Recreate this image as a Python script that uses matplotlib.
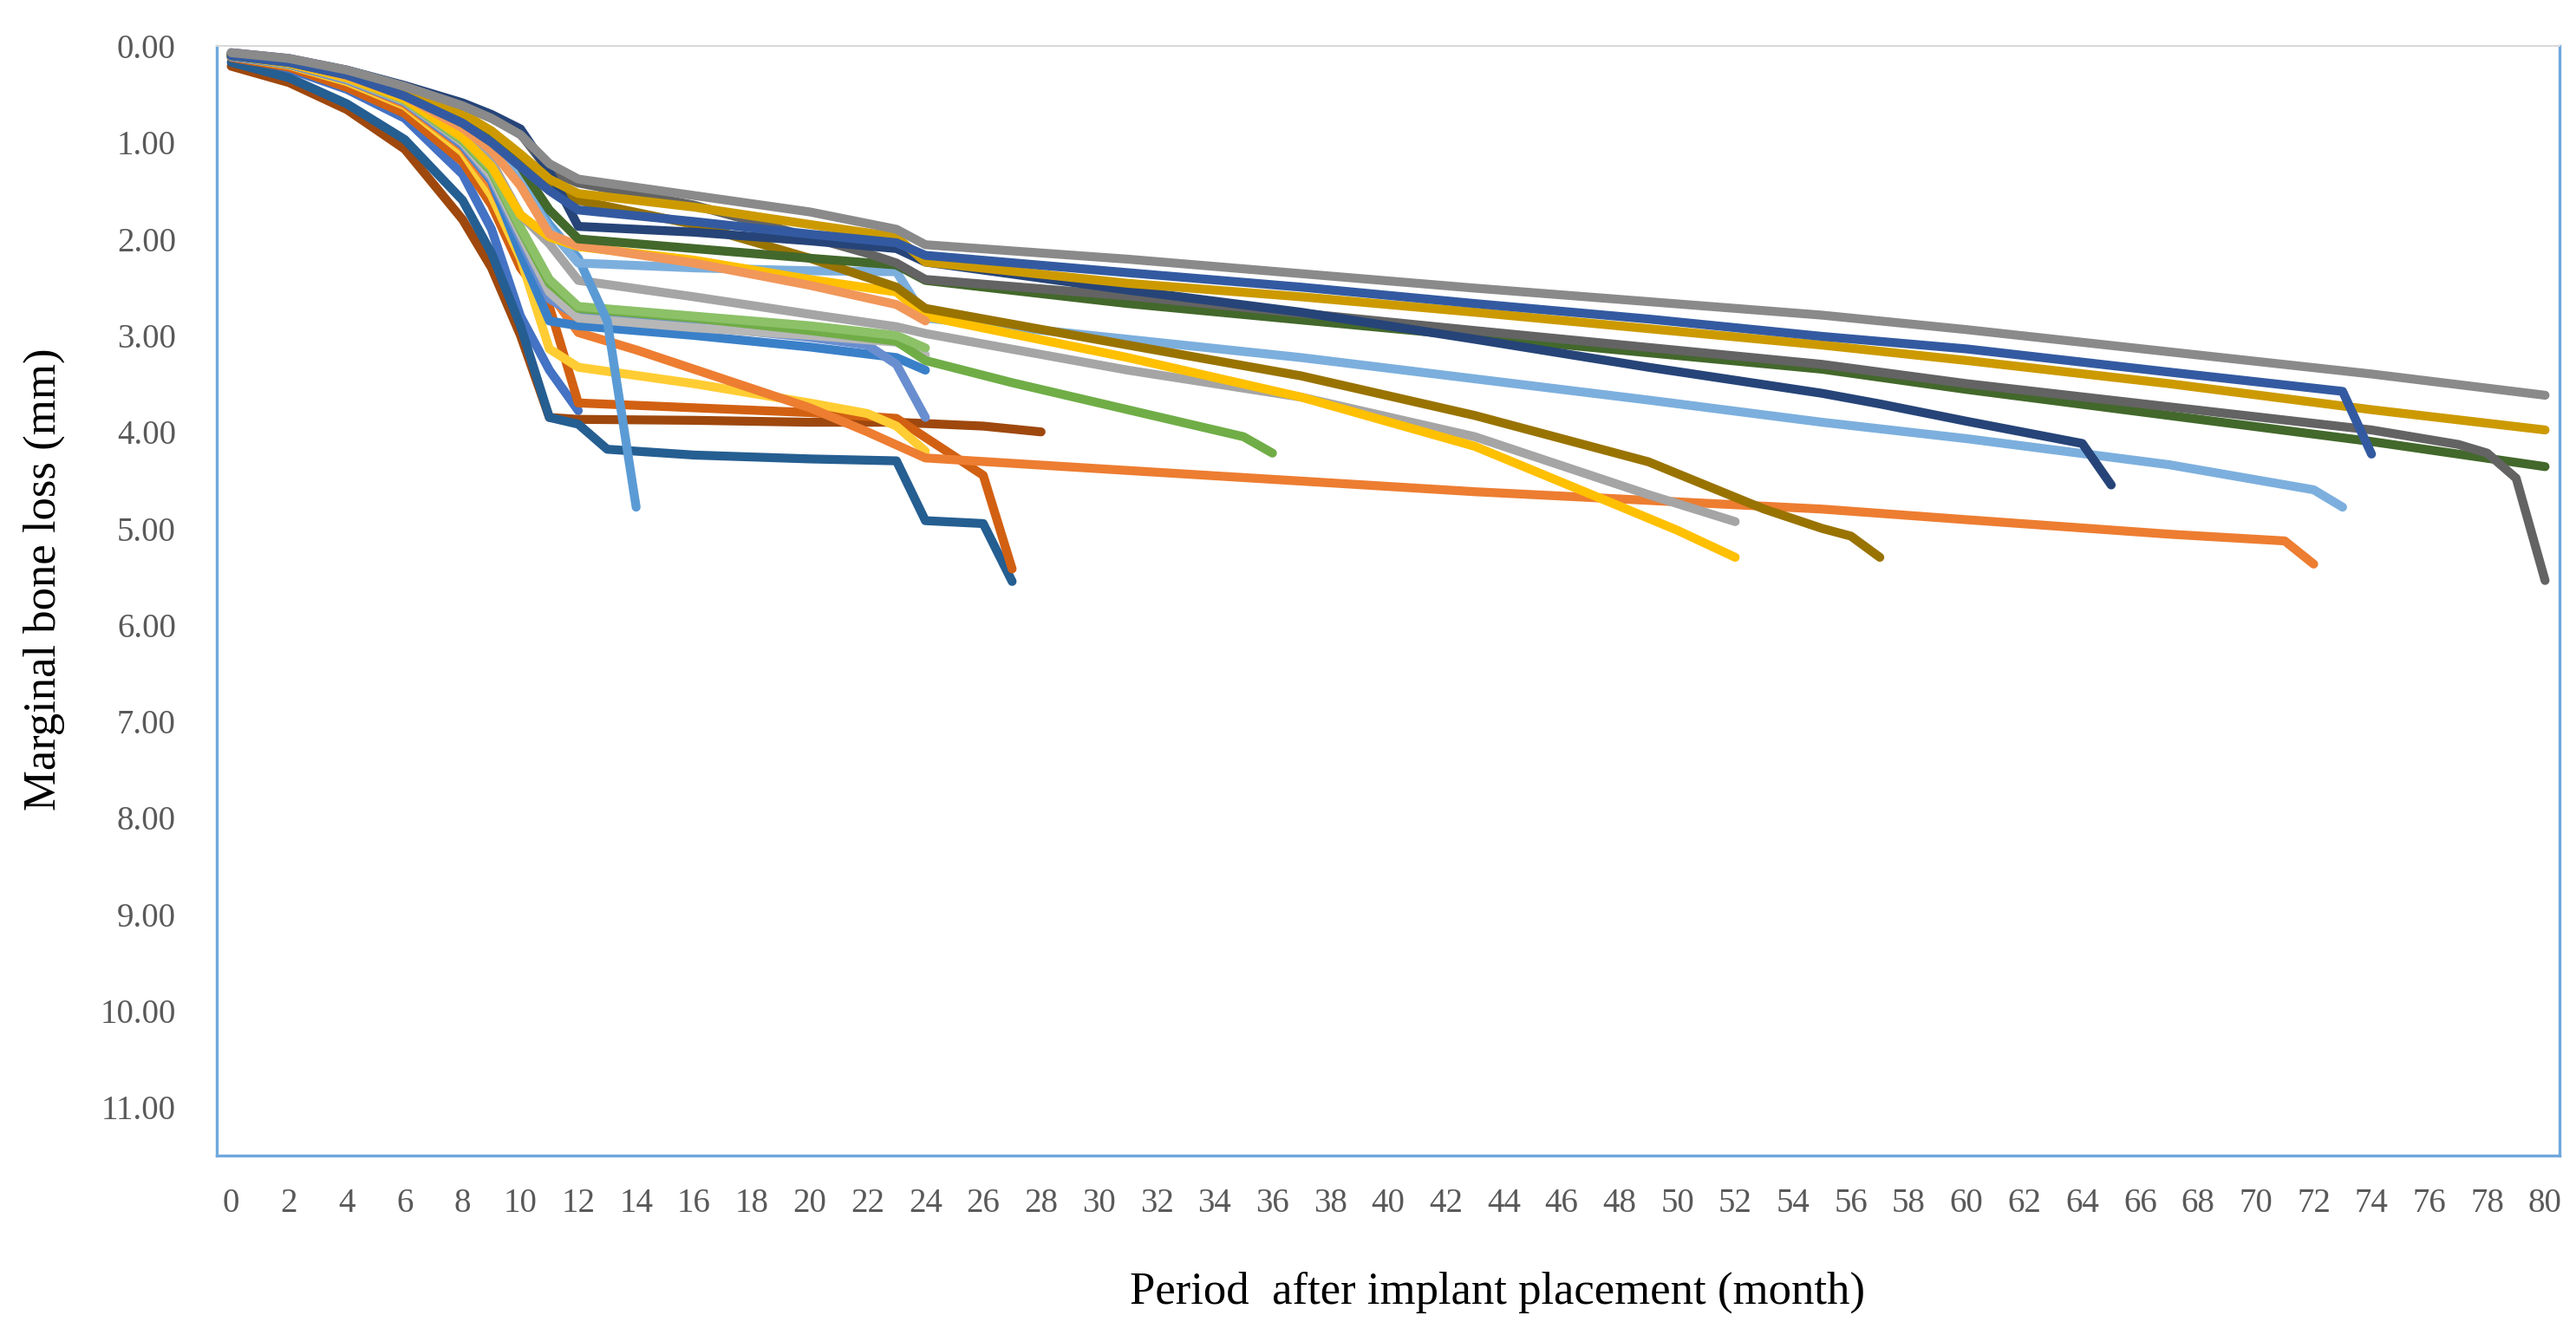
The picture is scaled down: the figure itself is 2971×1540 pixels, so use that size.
import matplotlib
matplotlib.use("Agg")
import matplotlib.pyplot as plt

# ---------------- data (month, marginal bone loss in mm) ----------------
x_ticks = list(range(0, 81, 2))
y_ticks = list(range(0, 12))

m_gray_top = [0, 2, 4, 6, 8, 9, 10, 11, 12, 16, 20, 23, 24, 31, 37, 43, 49, 55, 60, 67, 74, 80]
v_gray_top = [0.07, 0.13, 0.25, 0.42, 0.62, 0.75, 0.92, 1.22, 1.38, 1.55, 1.72, 1.90, 2.06, 2.21, 2.36, 2.51, 2.65, 2.79, 2.94, 3.17, 3.40, 3.62]

m_royal = [0, 2, 4, 6, 8, 9, 10, 11, 12, 16, 20, 23, 24, 31, 37, 43, 49, 55, 60, 67, 73, 74]
v_royal = [0.10, 0.17, 0.30, 0.52, 0.80, 1.00, 1.25, 1.50, 1.70, 1.82, 1.95, 2.04, 2.17, 2.35, 2.50, 2.67, 2.83, 3.01, 3.14, 3.38, 3.58, 4.23]

m_gold = [0, 2, 4, 6, 8, 9, 10, 11, 12, 16, 20, 23, 24, 31, 37, 43, 49, 55, 60, 67, 74, 80]
v_gold = [0.09, 0.15, 0.27, 0.45, 0.70, 0.88, 1.12, 1.38, 1.53, 1.67, 1.85, 1.98, 2.24, 2.46, 2.60, 2.76, 2.93, 3.10, 3.26, 3.50, 3.77, 3.98]

m_navy = [0, 2, 4, 6, 8, 9, 10, 11, 12, 16, 20, 23, 24, 31, 37, 43, 49, 55, 57, 60, 64, 65]
v_navy = [0.07, 0.13, 0.25, 0.41, 0.59, 0.71, 0.86, 1.30, 1.87, 1.93, 2.02, 2.10, 2.24, 2.53, 2.76, 3.04, 3.33, 3.60, 3.71, 3.89, 4.12, 4.55]

m_dgray = [0, 2, 4, 6, 8, 9, 10, 11, 12, 16, 20, 22, 23, 24, 31, 43, 55, 60, 67, 74, 77, 78, 79, 80]
v_dgray = [0.08, 0.14, 0.26, 0.43, 0.62, 0.75, 0.91, 1.30, 1.42, 1.65, 1.98, 2.15, 2.25, 2.42, 2.59, 2.95, 3.30, 3.50, 3.74, 3.98, 4.13, 4.22, 4.48, 5.54]

m_dgreen = [0, 2, 4, 6, 8, 9, 10, 11, 12, 16, 20, 23, 24, 31, 43, 55, 60, 67, 74, 80]
v_dgreen = [0.10, 0.17, 0.30, 0.50, 0.80, 0.98, 1.25, 1.70, 2.00, 2.10, 2.20, 2.27, 2.43, 2.67, 3.01, 3.35, 3.56, 3.83, 4.10, 4.36]

m_olive = [0, 2, 4, 6, 8, 9, 10, 11, 12, 16, 20, 22, 23, 24, 31, 37, 43, 49, 53, 55, 56, 57]
v_olive = [0.09, 0.15, 0.28, 0.47, 0.75, 0.92, 1.15, 1.40, 1.60, 1.85, 2.20, 2.40, 2.50, 2.72, 3.10, 3.42, 3.83, 4.31, 4.80, 5.00, 5.08, 5.30]

m_peach = [0, 2, 4, 6, 8, 9, 10, 11, 12, 16, 20, 23, 24]
v_peach = [0.10, 0.17, 0.31, 0.52, 0.85, 1.08, 1.45, 1.95, 2.07, 2.25, 2.48, 2.68, 2.85]

m_yellow = [0, 2, 4, 6, 8, 9, 10, 11, 12, 16, 20, 23, 24, 31, 37, 43, 48, 50, 52]
v_yellow = [0.10, 0.18, 0.33, 0.55, 0.95, 1.25, 1.75, 1.98, 2.08, 2.22, 2.42, 2.55, 2.80, 3.23, 3.64, 4.15, 4.77, 5.02, 5.30]

m_lblue = [0, 2, 4, 6, 8, 9, 10, 11, 12, 16, 20, 23, 24, 31, 37, 43, 49, 55, 60, 67, 72, 73]
v_lblue = [0.10, 0.17, 0.31, 0.52, 0.85, 1.05, 1.40, 1.90, 2.25, 2.30, 2.33, 2.34, 2.82, 3.04, 3.23, 3.45, 3.67, 3.90, 4.07, 4.34, 4.60, 4.78]

m_steep = [0, 2, 4, 6, 8, 9, 10, 11, 12, 13, 14]
v_steep = [0.09, 0.16, 0.30, 0.50, 0.83, 1.05, 1.40, 1.85, 2.20, 2.85, 4.78]

m_lgray = [0, 2, 4, 6, 8, 9, 10, 11, 12, 16, 20, 23, 24, 31, 37, 43, 49, 52]
v_lgray = [0.10, 0.18, 0.33, 0.55, 0.90, 1.20, 1.75, 2.05, 2.43, 2.60, 2.78, 2.91, 2.98, 3.36, 3.64, 4.05, 4.65, 4.93]

m_green = [0, 2, 4, 6, 8, 9, 10, 11, 12, 16, 20, 23, 24, 27, 31, 35, 36]
v_green = [0.10, 0.18, 0.33, 0.56, 0.98, 1.30, 1.90, 2.46, 2.72, 2.82, 2.95, 3.06, 3.26, 3.49, 3.77, 4.05, 4.22]

m_lgreen = [0, 2, 4, 6, 8, 9, 10, 11, 12, 16, 20, 23, 24]
v_lgreen = [0.10, 0.18, 0.33, 0.56, 0.97, 1.28, 1.88, 2.42, 2.70, 2.80, 2.90, 3.00, 3.13]

m_silver = [0, 2, 4, 6, 8, 9, 10, 11, 12, 16, 20, 23, 24]
v_silver = [0.10, 0.18, 0.34, 0.57, 1.00, 1.35, 1.95, 2.55, 2.82, 2.92, 3.00, 3.07, 3.20]

m_cflower = [0, 2, 4, 6, 8, 9, 10, 11, 12, 16, 20, 22, 23, 24]
v_cflower = [0.11, 0.19, 0.35, 0.58, 1.02, 1.38, 2.00, 2.62, 2.80, 2.90, 3.02, 3.10, 3.30, 3.85]

m_blue = [0, 2, 4, 6, 8, 9, 10, 11, 12, 16, 20, 23, 24]
v_blue = [0.11, 0.19, 0.35, 0.58, 1.03, 1.40, 2.15, 2.85, 2.90, 3.00, 3.12, 3.23, 3.36]

m_orange = [0, 2, 4, 6, 8, 9, 10, 11, 12, 14, 16, 18, 20, 22, 24, 31, 43, 55, 60, 67, 71, 72]
v_orange = [0.10, 0.19, 0.35, 0.60, 1.05, 1.45, 2.05, 2.55, 2.97, 3.15, 3.35, 3.55, 3.75, 4.00, 4.27, 4.40, 4.62, 4.80, 4.91, 5.06, 5.13, 5.37]

m_lyellow = [0, 2, 4, 6, 8, 9, 10, 11, 12, 16, 20, 22, 23, 24]
v_lyellow = [0.11, 0.20, 0.37, 0.62, 1.10, 1.55, 2.20, 3.14, 3.33, 3.50, 3.70, 3.81, 3.94, 4.20]

m_dorange = [0, 2, 4, 6, 8, 9, 10, 11, 12, 16, 20, 23, 26, 27]
v_dorange = [0.12, 0.22, 0.43, 0.70, 1.20, 1.65, 2.30, 2.70, 3.70, 3.75, 3.80, 3.86, 4.45, 5.42]

m_mblue = [0, 2, 4, 6, 8, 9, 10, 11, 12]
v_mblue = [0.12, 0.24, 0.45, 0.75, 1.33, 1.90, 2.80, 3.36, 3.78]

m_dblue = [0, 2, 4, 6, 8, 9, 10, 11, 12, 13, 16, 20, 23, 24, 26, 27]
v_dblue = [0.17, 0.33, 0.60, 0.97, 1.60, 2.15, 2.90, 3.85, 3.92, 4.18, 4.24, 4.28, 4.30, 4.92, 4.95, 5.55]

m_brown = [0, 2, 4, 6, 8, 9, 10, 11, 12, 16, 20, 23, 26, 28]
v_brown = [0.21, 0.38, 0.66, 1.07, 1.80, 2.30, 3.00, 3.85, 3.87, 3.88, 3.90, 3.90, 3.94, 4.00]

series = [
    (m_mblue, v_mblue, "#4472C4"),
    (m_brown, v_brown, "#9E480E"),
    (m_dblue, v_dblue, "#255E91"),
    (m_dorange, v_dorange, "#D26012"),
    (m_lyellow, v_lyellow, "#FFCD33"),
    (m_orange, v_orange, "#ED7D31"),
    (m_blue, v_blue, "#3A80C9"),
    (m_cflower, v_cflower, "#698ED0"),
    (m_silver, v_silver, "#B7B7B7"),
    (m_green, v_green, "#70AD47"),
    (m_lgreen, v_lgreen, "#8CC168"),
    (m_lgray, v_lgray, "#A5A5A5"),
    (m_steep, v_steep, "#5B9BD5"),
    (m_lblue, v_lblue, "#7CAFDD"),
    (m_yellow, v_yellow, "#FFC000"),
    (m_peach, v_peach, "#F1975A"),
    (m_olive, v_olive, "#997300"),
    (m_dgreen, v_dgreen, "#43682B"),
    (m_dgray, v_dgray, "#636363"),
    (m_navy, v_navy, "#264478"),
    (m_gold, v_gold, "#CC9A00"),
    (m_royal, v_royal, "#335AA1"),
    (m_gray_top, v_gray_top, "#8A8A8A"),
]

# ---------------- figure ----------------
W, H = 2971, 1540
fig = plt.figure(figsize=(W / 100, H / 100), dpi=100)
ax = fig.add_axes([250 / W, 1 - 1333 / H, (2952 - 250) / W, (1333 - 53) / H])

for m, v, c in series:
    ax.plot(m, v, color=c, lw=7.4, solid_capstyle="round", solid_joinstyle="round")

ax.set_xlim(-0.5, 80.5)
ax.set_ylim(11.5, 0)
ax.set_xticks(x_ticks)
ax.set_xticklabels([str(t) for t in x_ticks])
ax.set_yticks(y_ticks)
ax.set_yticklabels([f"{t:.2f}" for t in y_ticks])

serif = "Liberation Serif"
for lab in ax.get_xticklabels():
    lab.set_fontfamily(serif)
    lab.set_fontsize(28)
    lab.set_color("#595959")
for lab in ax.get_yticklabels():
    lab.set_fontfamily(serif)
    lab.set_fontsize(28)
    lab.set_color("#595959")
ax.tick_params(axis="both", length=0)
ax.tick_params(axis="y", pad=34)
ax.tick_params(axis="x", pad=27)

for side in ["left", "right", "bottom"]:
    ax.spines[side].set_color("#6FA8DC")
    ax.spines[side].set_linewidth(2.4)
ax.spines["top"].set_color("#D9D9D9")
ax.spines["top"].set_linewidth(1.5)

fig.text(1727 / W, 1 - 1491 / H, "Period  after implant placement (month)",
         ha="center", va="center", fontsize=38, family=serif, color="black")
fig.text(51 / W, 1 - 668 / H, "Marginal bone loss (mm)", rotation=90,
         ha="center", va="center", fontsize=38, family=serif, color="black")

fig.savefig("out.png", dpi=100, facecolor="white")
